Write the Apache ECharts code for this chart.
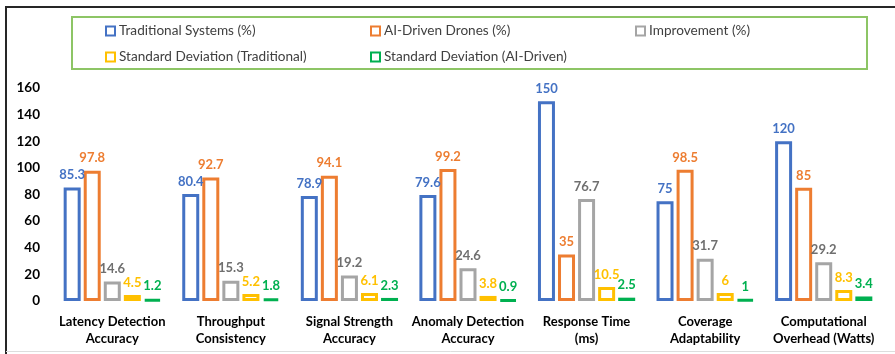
<!DOCTYPE html>
<html>
<head>
<meta charset="utf-8">
<script src="https://cdn.jsdelivr.net/npm/echarts@6/dist/echarts.min.js"></script>
<style>
  html, body { margin: 0; padding: 0; background: #ffffff; }
  #chart { width: 895px; height: 354px; }
</style>
</head>
<body>
<div id="chart"></div>
<script>
// Metric categories (two-line axis labels)
const categories = [
  'Latency Detection\nAccuracy',
  'Throughput\nConsistency',
  'Signal Strength\nAccuracy',
  'Anomaly Detection\nAccuracy',
  'Response Time\n(ms)',
  'Coverage\nAdaptability',
  'Computational\nOverhead (Watts)'
];

// Series values
const traditionalSystems = [85.3, 80.4, 78.9, 79.6, 150, 75, 120];
const aiDrivenDrones     = [97.8, 92.7, 94.1, 99.2, 35, 98.5, 85];
const improvement        = [14.6, 15.3, 19.2, 24.6, 76.7, 31.7, 29.2];
const stdDevTraditional  = [4.5, 5.2, 6.1, 3.8, 10.5, 6, 8.3];
const stdDevAiDriven     = [1.2, 1.8, 2.3, 0.9, 2.5, 1, 3.4];

const seriesNames = [
  'Traditional Systems (%)',
  'AI-Driven Drones (%)',
  'Improvement (%)',
  'Standard Deviation (Traditional)',
  'Standard Deviation (AI-Driven)'
];

const yTicks = { min: 0, max: 160, interval: 20 };

const FONT = 'Lato, "Open Sans", sans-serif';
const colors = ['#4472C4', '#ED7D31', '#A5A5A5', '#FFC000', '#00B050'];
const labelColors = ['#4472C4', '#ED7D31', '#6F6F6F', '#FFC000', '#00B050'];
const dataSets = [traditionalSystems, aiDrivenDrones, improvement, stdDevTraditional, stdDevAiDriven];

// Hollow bars: white fill with a thick coloured outline
const series = dataSets.map((d, i) => ({
  name: seriesNames[i],
  type: 'bar',
  data: d,
  barGap: '18%',
  barCategoryGap: '18%',
  itemStyle: { color: '#ffffff', borderColor: colors[i], borderWidth: 3 },
  label: {
    show: true,
    position: 'top',
    distance: 6,
    color: labelColors[i],
    fontFamily: FONT,
    fontWeight: 'bold',
    fontSize: 13
  }
}));

// Legend laid out in a 3-column grid inside a framed box
const legendPos = [
  { left: 105, top: 24 },
  { left: 370, top: 24 },
  { left: 635, top: 24 },
  { left: 105, top: 50 },
  { left: 370, top: 50 }
];
const legends = seriesNames.map((n, i) => ({
  data: [n],
  left: legendPos[i].left,
  top: legendPos[i].top,
  padding: 0,
  itemWidth: 9,
  itemHeight: 9,
  itemGap: 0,
  icon: 'rect',
  selectedMode: false,
  textStyle: { fontFamily: FONT, fontSize: 13.6, color: '#404040', padding: [0, 0, 0, -1] }
}));

const chart = echarts.init(document.getElementById('chart'), null, { renderer: 'canvas' });
chart.setOption({
  animation: false,
  backgroundColor: '#ffffff',
  color: colors,
  legend: legends,
  grid: { left: 53, right: 12, top: 88, bottom: 53, containLabel: false },
  xAxis: {
    type: 'category',
    data: categories,
    axisLine: { show: false },
    axisTick: { show: false },
    axisLabel: {
      interval: 0,
      margin: 12,
      color: '#000000',
      fontFamily: FONT,
      fontWeight: 'bold',
      fontSize: 13,
      lineHeight: 17
    }
  },
  yAxis: {
    type: 'value',
    min: yTicks.min,
    max: yTicks.max,
    interval: yTicks.interval,
    splitLine: { show: false },
    axisLine: { show: false },
    axisTick: { show: false },
    axisLabel: {
      margin: 13,
      color: '#000000',
      fontFamily: FONT,
      fontWeight: 'bold',
      fontSize: 13.5
    }
  },
  graphic: [
    // outer frame
    { type: 'line', shape: { x1: 5, y1: 7, x2: 895, y2: 7 }, style: { stroke: '#262626', lineWidth: 2 } },
    { type: 'line', shape: { x1: 6, y1: 6, x2: 6, y2: 354 }, style: { stroke: '#262626', lineWidth: 2 } },
    { type: 'line', shape: { x1: 6, y1: 351.5, x2: 895, y2: 351.5 }, style: { stroke: '#dddddd', lineWidth: 1 } },
    // legend box
    { type: 'rect', shape: { x: 72, y: 17, width: 795, height: 52 }, style: { fill: 'none', stroke: '#8DC565', lineWidth: 2 } }
  ],
  series: series
});
</script>
</body>
</html>
